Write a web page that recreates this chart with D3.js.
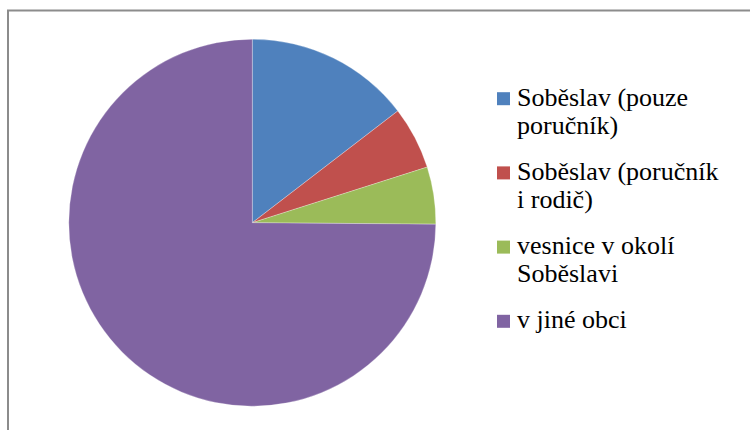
<!DOCTYPE html>
<html>
<head>
<meta charset="utf-8">
<script src="https://cdn.jsdelivr.net/npm/d3@7"></script>
<style>
  html, body { margin: 0; padding: 0; background: #fff; }
  svg { display: block; }
  .leg { font-family: "Liberation Serif", "Times New Roman", Times, Tinos, "DejaVu Serif", serif; font-size: 26px; fill: #000; }
</style>
</head>
<body>
<svg id="chart" width="750" height="430"></svg>
<script>
const categories = [
  ["Soběslav (pouze", "poručník)"],
  ["Soběslav (poručník", "i rodič)"],
  ["vesnice v okolí", "Soběslavi"],
  ["v jiné obci"]
];
const values = [29, 11, 10, 149];
const colors = ["#4F81BD", "#C0504D", "#9BBB59", "#8064A2"];

const svg = d3.select("#chart");

// outer frame
svg.append("rect")
  .attr("x", 8).attr("y", 10.5)
  .attr("width", 760).attr("height", 440)
  .attr("fill", "none")
  .attr("stroke", "#8c8c8c")
  .attr("stroke-width", 2);

const cx = 252.3, cy = 222.7, r = 183.5;
const pie = d3.pie().sort(null).value(d => d)(values);
const arc = d3.arc().innerRadius(0).outerRadius(r);

const color = d3.scaleOrdinal().domain(d3.range(values.length)).range(colors);

svg.append("g")
  .attr("transform", `translate(${cx},${cy})`)
  .selectAll("path")
  .data(pie)
  .join("path")
  .attr("d", arc)
  .attr("fill", (d, i) => color(i))
  .attr("stroke", "#ffffff")
  .attr("stroke-opacity", 0.45)
  .attr("stroke-width", 0.6);

// legend
const legendY = d3.scaleLinear().domain([0, 3]).range([105.7, 328.3]);
const lg = svg.append("g");
categories.forEach((lines, i) => {
  const by = legendY(i);
  lg.append("rect")
    .attr("x", 497).attr("y", by - 13.5)
    .attr("width", 13).attr("height", 13)
    .attr("fill", color(i));
  const t = lg.append("text")
    .attr("class", "leg")
    .attr("x", 517).attr("y", by);
  lines.forEach((ln, j) => {
    t.append("tspan").attr("x", 517).attr("y", by + j * 28).text(ln);
  });
});
</script>
</body>
</html>
